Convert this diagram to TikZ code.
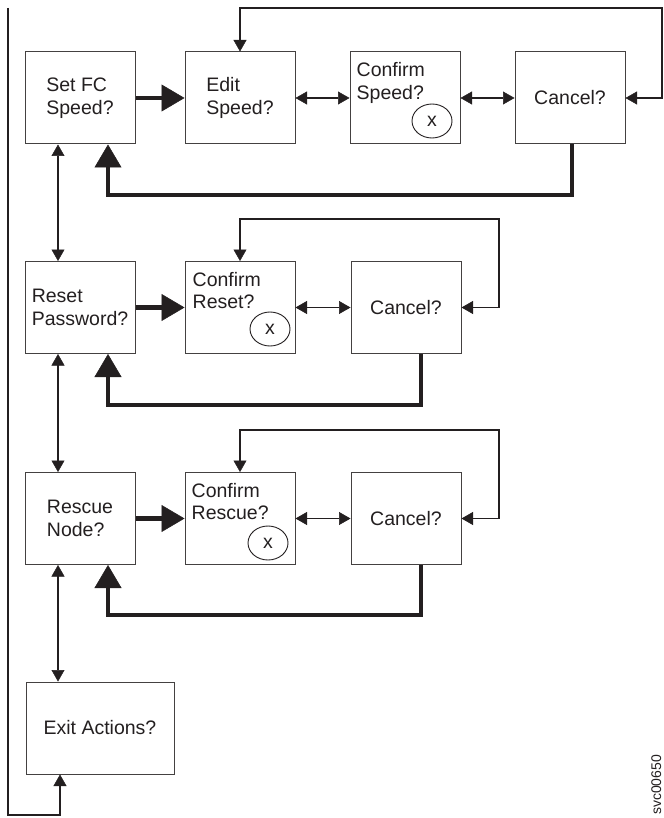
\documentclass[tikz,border=0pt]{standalone}
\usepackage{fontspec}
\setmainfont{Liberation Sans}
\usetikzlibrary{arrows.meta,shapes.geometric}
\definecolor{ink}{HTML}{231F20}
\begin{document}
\begin{tikzpicture}[x=1pt,y=-1pt,
  txt/.style={font=\fontsize{19.5}{22.5}\selectfont, text=ink},
  box/.style={txt, draw=ink!85, line width=1pt, minimum width=110pt, minimum height=92pt, inner sep=0pt, align=left},
  lbl/.style={txt, inner sep=0pt, align=left, anchor=north west},
  xmark/.style={txt, ellipse, draw=ink, line width=0.9pt, minimum width=40pt, minimum height=34pt, inner sep=0pt},
  Sm/.tip={Triangle[length=11.5pt,width=13pt,line width=0.5pt]},
  Bg/.tip={Triangle[length=23pt,width=27pt,line width=0.5pt]},
  lnk/.style={draw=ink, line width=1.3pt},
  fat/.style={draw=ink, line width=4.5pt, -Bg}
]
\useasboundingbox (0,0) rectangle (663,818);

% row 1
\node[box] (setfc) at (80,98) {Set FC\\Speed?};
\node[box] (edit) at (240,98) {Edit\\Speed?};
\node[box] (confs) at (405,98) {};
\node[lbl] (tconfs) at ([shift={(7,11)}]confs.north west) {Confirm\\Speed?};
\node[xmark] (xs) at (432,121) {x};
\node[box] (canc1) at (570,98) {Cancel?};

% row 2
\node[box] (reset) at (80,307.5) {Reset\\Password?};
\node[box] (confr) at (240,307.5) {};
\node[lbl] (tconfr) at ([shift={(8,11)}]confr.north west) {Confirm\\Reset?};
\node[xmark] (xr) at (270,329) {x};
\node[box] (canc2) at (406,307.5) {Cancel?};

% row 3
\node[box] (rescue) at (80,518.5) {Rescue\\Node?};
\node[box] (confq) at (240,518.5) {};
\node[lbl] (tconfq) at ([shift={(7,11)}]confq.north west) {Confirm\\Rescue?};
\node[xmark] (xq) at (268,543) {x};
\node[box] (canc3) at (406,518.5) {Cancel?};

% exit
\node[box, minimum width=148pt] (exit) at (100,728) {Exit Actions?};

% helper coordinates
\coordinate (vx) at (58,0);
\coordinate (l1) at (662,8);
\coordinate (l2) at (499,219);
\coordinate (l3) at (499,430);
\coordinate (r1) at (108,195);
\coordinate (r2) at (108,405);
\coordinate (r3) at (108,615);
\coordinate (c2x) at (421,0);
\coordinate (ltop) at (8,8);
\coordinate (lbot) at (8,815);
\coordinate (lcor) at (60,815);

% row 1 connectors
\draw[fat] (setfc) -- (edit);
\draw[lnk, Sm-Sm] (edit) -- (confs);
\draw[lnk, Sm-Sm] (confs) -- (canc1);
\draw[lnk, Sm-Sm] (edit.north) |- (l1) |- (canc1.east);
\draw[fat] ([xshift=2pt]canc1.south) |- (r1) -- (r1 |- setfc.south);

% row 2 connectors
\draw[fat] (reset) -- (confr);
\draw[lnk, Sm-Sm] (confr) -- (canc2);
\draw[lnk, Sm-Sm] (confr.north) |- (l2) |- (canc2.east);
\draw[fat] (canc2.south -| c2x) |- (r2) -- (r2 |- reset.south);

% row 3 connectors
\draw[fat] (rescue) -- (confq);
\draw[lnk, Sm-Sm] (confq) -- (canc3);
\draw[lnk, Sm-Sm] (confq.north) |- (l3) |- (canc3.east);
\draw[fat] (canc3.south -| c2x) |- (r3) -- (r3 |- rescue.south);

% vertical links
\draw[lnk, Sm-Sm] (setfc.south -| vx) -- (reset.north -| vx);
\draw[lnk, Sm-Sm] (reset.south -| vx) -- (rescue.north -| vx);
\draw[lnk, Sm-Sm] (rescue.south -| vx) -- (exit.north -| vx);

% left return line
\draw[lnk, -Sm] (ltop) -- (lbot) -- (lcor) -- (exit.south -| lcor);

% figure id
\node[rotate=90, anchor=base west, inner sep=0pt, font=\fontsize{14}{14}\selectfont, text=ink] (figid) at (661,815) {svc00650};
\end{tikzpicture}
\end{document}
